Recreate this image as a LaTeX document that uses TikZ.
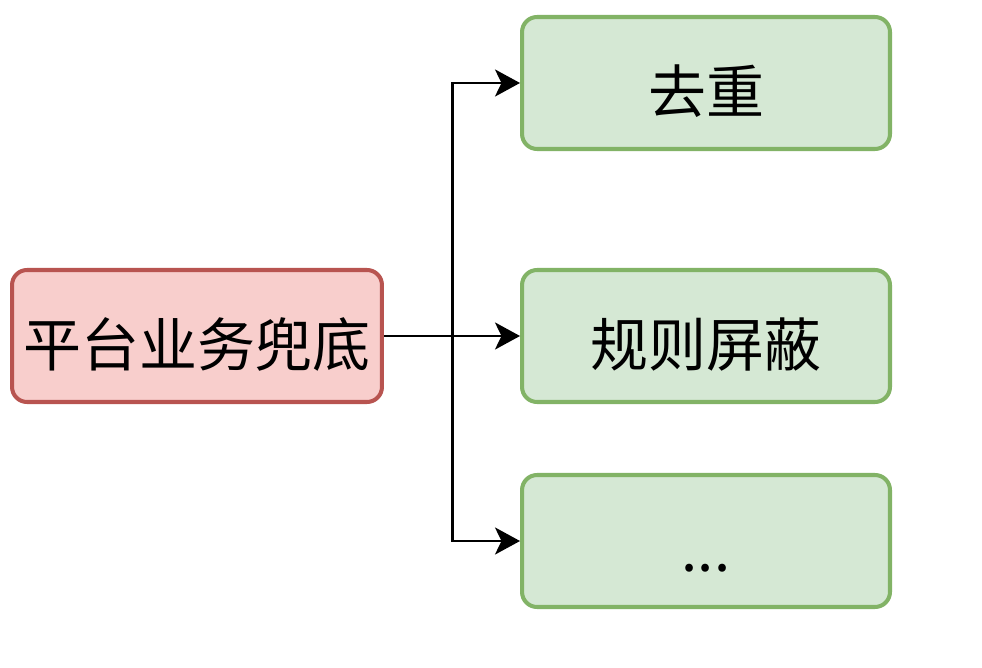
\documentclass[tikz,border=0pt]{standalone}
\usepackage{fontspec}
\usetikzlibrary{arrows.meta,positioning}
\newfontfamily\cjk{Noto Sans CJK SC}
\definecolor{redfill}{HTML}{F8CECC}
\definecolor{redline}{HTML}{B85450}
\definecolor{greenfill}{HTML}{D5E8D4}
\definecolor{greenline}{HTML}{82B366}

\begin{document}
\begin{tikzpicture}[x=0.02cm,y=-0.02cm,
			base node/.style={rectangle,rounded corners=0.3cm,line width=2.3pt,
				minimum height=2.64cm,inner sep=0pt,text height=35pt,text depth=0pt,
				font=\cjk\fontsize{33pt}{37pt}\selectfont},
			root node/.style={base node,draw=redline,fill=redfill,minimum width=7.4cm},
			leaf node/.style={base node,draw=greenline,fill=greenfill,minimum width=7.36cm},
			link/.style={line width=1.7pt,-{Stealth[length=0.5cm,width=0.54cm,inset=0.13cm]}}]
			
			\useasboundingbox (0,0) rectangle (982,668);
			
			\node[root node] (Root) at (197,336) {平台业务兜底};
			\node[leaf node] (Dedup) at (706,83) {去重};
			\node[leaf node] (Rule) at (706,336) {规则屏蔽};
			\node[leaf node] (More) at (706,541) {...};
			
			\coordinate (Fork) at (452,336);
			
			\draw[link] (Root) -- (Rule);
			\draw[link] (Fork) |- (Dedup);
			\draw[link] (Fork) |- (More);
			\end{tikzpicture}
\end{document}
